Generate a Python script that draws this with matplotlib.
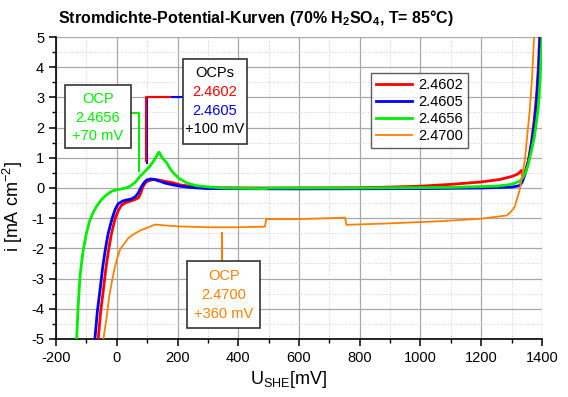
import matplotlib
matplotlib.use("Agg")
import matplotlib.pyplot as plt
from matplotlib.patches import Rectangle
from matplotlib.ticker import MultipleLocator

plt.rcParams['font.family'] = ['Liberation Sans', 'DejaVu Sans']
plt.rcParams['axes.unicode_minus'] = False
plt.rcParams['mathtext.fontset'] = 'custom'
plt.rcParams['mathtext.rm'] = 'Liberation Sans'
plt.rcParams['mathtext.it'] = 'Liberation Sans'
plt.rcParams['mathtext.bf'] = 'Liberation Sans:bold'

labels = ["2.4602", "2.4605", "2.4656", "2.4700"]
colors = ["#ff0000", "#0000ff", "#00ee00", "#ff8000"]
widths = [2.0, 2.0, 2.0, 1.3]

red_v = [-61, -53, -44, -35, -26, -17, -5, 5, 15, 28, 44, 60, 71, 78, 87, 95, 105, 120, 135,
         150, 186, 210, 241, 270, 300, 500, 800, 900, 1000, 1100, 1200, 1260, 1300, 1320,
         1333, 1338, 1345, 1355, 1365, 1375, 1383, 1388, 1392]
red_i = [-5, -4.1, -3.37, -2.6, -2.0, -1.49, -1.0, -0.75, -0.58, -0.49, -0.44, -0.38, -0.33,
         -0.2, 0.06, 0.18, 0.24, 0.28, 0.27, 0.24, 0.17, 0.1, 0.06, 0.03, 0.01, 0.0, 0.01,
         0.03, 0.06, 0.12, 0.2, 0.28, 0.38, 0.46, 0.58, 0.35, 0.55, 0.9, 1.5, 2.3, 3.2, 4.0, 5.0]

blue_v = [-72, -64, -55, -46, -37, -28, -15, -5, 5, 20, 35, 49, 62, 71, 80, 90, 99, 112, 125,
          140, 160, 186, 215, 241, 270, 300, 600, 1000, 1200, 1300, 1327, 1335, 1344, 1352,
          1360, 1368, 1375, 1381, 1386, 1390, 1394]
blue_i = [-5, -4.1, -3.37, -2.6, -2.0, -1.49, -1.0, -0.7, -0.52, -0.43, -0.39, -0.36, -0.28,
          -0.16, 0.02, 0.18, 0.27, 0.3, 0.28, 0.23, 0.16, 0.1, 0.05, 0.02, 0.0, -0.02, -0.03,
          -0.02, 0.0, 0.03, 0.08, 0.2, 0.45, 0.75, 1.1, 1.6, 2.1, 2.7, 3.4, 4.1, 5.0]

green_v = [-132, -127, -121, -115, -110, -100, -88, -76, -66, -50, -33, -15, 0, 16, 30, 44,
           60, 77, 93, 109, 125, 139, 150, 164, 175, 186, 205, 230, 260, 296, 350, 490, 500,
           800, 1100, 1250, 1300, 1327, 1337, 1345, 1353, 1360, 1368, 1375, 1382, 1387, 1391,
           1394, 1397, 1400]
green_i = [-5, -3.9, -2.93, -2.4, -2.04, -1.5, -1.05, -0.78, -0.6, -0.38, -0.22, -0.1, -0.06,
           -0.03, 0.0, 0.06, 0.18, 0.39, 0.55, 0.72, 0.95, 1.19, 1.0, 0.84, 0.65, 0.5, 0.32,
           0.17, 0.08, 0.04, 0.0, -0.02, 0.0, 0.0, 0.02, 0.06, 0.12, 0.23, 0.35, 0.5, 0.72,
           1.0, 1.35, 1.7, 2.2, 2.6, 3.1, 3.6, 4.3, 5.0]

orange_v = [-44, -38, -33, -25, -17, -8, 0, 11, 22, 38, 54, 77, 99, 126, 160, 200, 300, 400,
            488, 492, 600, 700, 752, 756, 900, 1064, 1196, 1284, 1296, 1305, 1311, 1318, 1327,
            1344, 1352, 1360, 1367, 1374]
orange_i = [-5, -4.6, -4.26, -3.6, -3.15, -2.7, -2.38, -2.04, -1.88, -1.66, -1.54, -1.41,
            -1.32, -1.21, -1.24, -1.27, -1.3, -1.3, -1.28, -1.03, -1.03, -1.0, -0.98, -1.22,
            -1.17, -1.1, -1.02, -0.91, -0.8, -0.7, -0.6, -0.35, -0.05, 0.95, 1.8, 2.6, 3.6, 5.0]

series = [(red_v, red_i), (blue_v, blue_i), (green_v, green_i), (orange_v, orange_i)]

fig = plt.figure(figsize=(5.68, 3.97), dpi=100)
ax = fig.add_axes([0.0986, 0.1461, 0.8556, 0.7607])

for (v, i), c, lw, lab in zip(series, colors, widths, labels):
    ax.plot(v, i, color=c, lw=lw, label=lab, zorder=3)

ax.set_xlim(-200, 1400)
ax.set_ylim(-5, 5)
ax.xaxis.set_major_locator(MultipleLocator(200))
ax.xaxis.set_minor_locator(MultipleLocator(100))
ax.yaxis.set_major_locator(MultipleLocator(1))
ax.yaxis.set_minor_locator(MultipleLocator(0.5))
ax.grid(which='major', color='#a8a8a8', lw=0.9)
ax.grid(which='minor', color='#d0d0d0', lw=0.7, ls=':')
ax.set_axisbelow(True)
for s in ['top', 'right']:
    ax.spines[s].set_visible(False)
for s in ['left', 'bottom']:
    ax.spines[s].set_linewidth(1.2)
ax.tick_params(which='major', direction='out', length=5, width=1.1, labelsize=10.5)
ax.tick_params(which='minor', direction='out', length=3, width=1.0)

ax.set_xlabel(r'U$_{\rm SHE}$[mV]', fontsize=13)
ax.set_ylabel(r'i [mA cm$^{-2}$]', fontsize=13)
ax.xaxis.set_label_coords(0.479, -0.1)
ax.yaxis.set_label_coords(-0.064, 0.44)

fig.text(0.45, 0.955, r'Stromdichte-Potential-Kurven (70% H$_{\bf 2}$SO$_{\bf 4}$, T= 85°C)',
         ha='center', va='center', fontsize=11.5, fontweight='bold')

leg = ax.legend(loc='upper left', bbox_to_anchor=(0.6475, 0.88), borderaxespad=0,
                fontsize=10.5, frameon=True, fancybox=False, edgecolor='#333333',
                labelspacing=0.2, handlelength=2.5, handletextpad=0.4, borderpad=0.35)
leg.get_frame().set_linewidth(1.0)


def box(x0, x1, y0, y1):
    ax.add_patch(Rectangle((x0, y0), x1 - x0, y1 - y0, fill=True, facecolor='white',
                           edgecolor='#333333', lw=1.2, zorder=5))


# green OCP
ax.plot([46, 74, 74], [2.47, 2.47, 0.56], color=colors[2], lw=1.5, zorder=4)
box(-170, 46, 1.34, 3.41)
for k, (t, c) in enumerate([("OCP", colors[2]), ("2.4656", colors[2]), ("+70 mV", colors[2])]):
    ax.text(-62, 2.95 - k * 0.62, t, color=c, ha='center', va='center', fontsize=10.5, zorder=6)

# red / blue OCPs
ax.plot([217, 100, 100], [3.0, 3.0, 0.82], color=colors[1], lw=1.5, zorder=4)
ax.plot([175, 95, 95], [3.0, 3.0, 0.9], color=colors[0], lw=1.5, zorder=4)
box(217, 428, 1.45, 4.27)
for k, (t, c) in enumerate([("OCPs", 'black'), ("2.4602", colors[0]),
                            ("2.4605", colors[1]), ("+100 mV", 'black')]):
    ax.text(322, 3.8 - k * 0.62, t, color=c, ha='center', va='center', fontsize=10.5, zorder=6)

# orange OCP
ax.plot([345, 345], [-2.43, -1.49], color=colors[3], lw=1.5, zorder=4)
box(232, 472, -4.62, -2.43)
for k, (t, c) in enumerate([("OCP", colors[3]), ("2.4700", colors[3]), ("+360 mV", colors[3])]):
    ax.text(352, -2.92 - k * 0.62, t, color=c, ha='center', va='center', fontsize=10.5, zorder=6)

fig.savefig('out.png', dpi=100)
